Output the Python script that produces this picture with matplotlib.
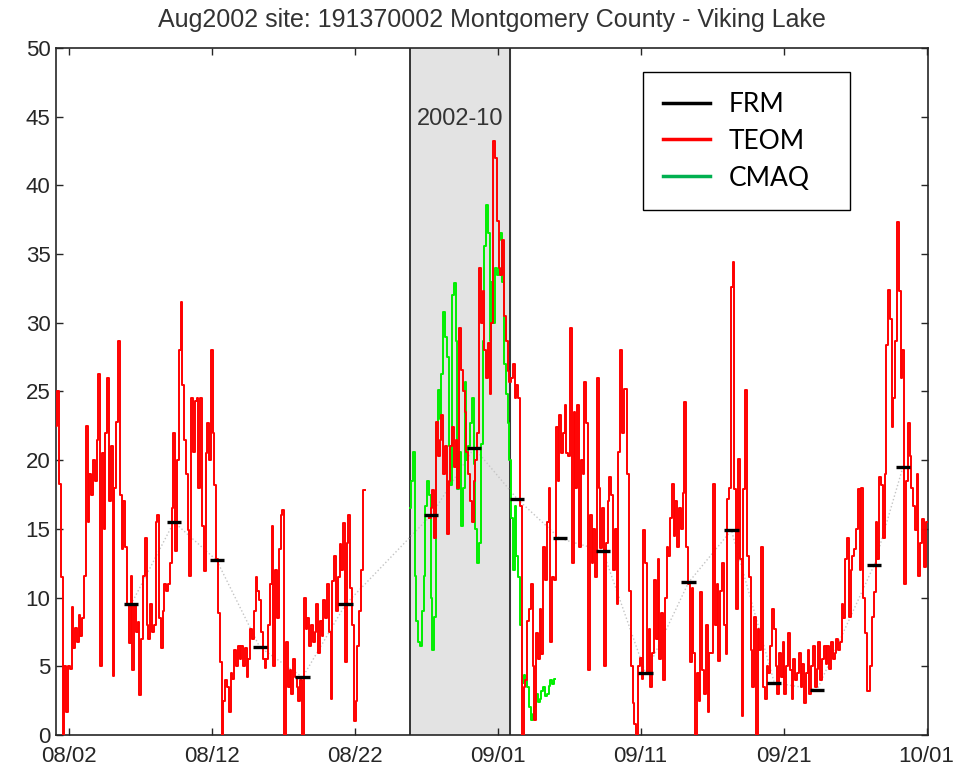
import numpy as np
import matplotlib.pyplot as plt
from matplotlib.lines import Line2D

plt.rcParams['font.family'] = ['Liberation Sans', 'DejaVu Sans']

# x axis is in days since 2002-08-01 (local time)
TZ_SHIFT = 0.15          # filter days / episode are drawn shifted to local time
EPISODE = (25, 32)       # 2002-10 modelling episode, days since Aug 1

# --------------------------------------------------
# data
# --------------------------------------------------
frm_day = [5, 8, 11, 14, 17, 20, 26, 29, 32, 35, 38, 41, 44, 47, 50, 53, 57, 59]
frm_val = [9.5, 15.5, 12.7, 6.4, 4.2, 9.5, 16.0, 20.9, 17.2, 14.3, 13.4,
           4.5, 11.1, 14.9, 3.8, 3.3, 12.4, 19.5]

nan = np.nan
# TEOM, 3-hourly, one row per day starting Aug 1
teom_by_day = [
    [12.5, 22.5, 25.0, 18.3, 11.5, 0.0, 5.0, 1.7],
    [5.0, 4.8, 9.3, 6.3, 7.8, 6.8, 8.7, 7.2],
    [8.5, 11.6, 22.5, 15.5, 19.0, 17.5, 20.0, 18.5],
    [21.5, 26.3, 5.0, 20.5, 15.0, 22.0, 26.0, 17.0],
    [21.0, 4.3, 18.0, 22.8, 28.7, 17.5, 13.5, 17.0],
    [13.7, 9.5, 6.7, 11.6, 4.7, 9.5, 7.5, 8.2],
    [2.9, 7.0, 11.6, 14.3, 8.0, 7.0, 9.5, 7.5],
    [8.0, 15.5, 16.0, 8.5, 6.3, 9.0, 11.0, 10.5],
    [11.0, 12.5, 16.5, 22.0, 13.4, 20.0, 28.0, 31.5],
    [25.5, 21.5, 19.0, 14.9, 11.6, 24.5, 20.6, 24.3],
    [24.5, 18.0, 24.5, 15.2, 11.9, 20.5, 22.7, 20.0],
    [28.0, 22.0, 18.2, 12.8, 8.9, 5.3, 0.0, 2.5],
    [4.0, 3.5, 1.7, 4.5, 4.1, 6.2, 5.0, 6.5],
    [5.5, 6.5, 5.0, 6.3, 4.2, 5.5, 7.7, 7.0],
    [9.0, 11.5, 10.5, 9.8, 7.5, 5.5, 4.9, 5.5],
    [8.0, 11.0, 15.2, 5.0, 12.0, 8.5, 13.5, 16.0],
    [16.4, 0.0, 6.8, 3.5, 4.7, 3.0, 5.5, 4.2],
    [3.5, 2.5, 4.0, 0.0, 10.0, 7.7, 8.5, 6.5],
    [8.0, 6.8, 7.5, 9.5, 6.0, 8.3, 7.2, 9.8],
    [8.5, 11.0, 7.5, 2.6, 11.2, 13.0, 9.0, 11.5],
    [13.9, 12.0, 15.4, 5.3, 14.0, 16.0, 10.7, 8.0],
    [1.0, 2.5, 6.5, 9.0, 12.0, 17.8, nan, nan],
    [nan] * 8,
    [nan] * 8,
    [nan] * 8,
    [nan] * 8,
    [nan, nan, 15.8, 16.5, 17.8, 14.3, 22.8, 20.3],
    [21.5, 23.3, 19.0, 21.0, 14.6, 18.5, 21.0, 22.4],
    [19.5, 21.5, 18.0, 29.6, 26.6, 25.0, 23.5, 20.6],
    [19.0, 17.0, 15.5, 18.5, 20.0, 22.0, 34.0, 30.0],
    [32.3, 28.0, 26.0, 28.5, 24.8, 30.0, 43.2, 42.0],
    [37.4, 34.0, 33.5, 36.0, 30.5, 28.7, 26.5, 25.7],
    [26.0, 27.0, 24.5, 25.5, 24.5, 16.7, 0.0, 3.5],
    [4.0, 8.3, 9.2, 11.0, 5.0, 1.1, 7.4, 5.5],
    [9.2, 5.9, 13.7, 11.3, 15.5, 18.0, 6.8, 11.5],
    [11.3, 22.4, 18.5, 23.3, 20.5, 22.0, 24.0, 20.5],
    [20.3, 29.6, 12.5, 23.5, 18.0, 24.0, 13.7, 20.0],
    [19.0, 25.7, 22.7, 4.7, 16.0, 12.5, 15.0, 11.5],
    [26.0, 18.0, 13.6, 16.5, 5.0, 14.0, 17.0, 18.8],
    [17.5, 12.0, 15.0, 9.5, 20.6, 28.0, 22.0, 25.2],
    [25.2, 19.0, 10.5, 5.0, 2.3, 0.8, 0.0, 5.0],
    [5.6, 4.1, 14.9, 12.5, 4.5, 7.7, 3.5, 6.0],
    [11.3, 7.0, 12.8, 5.5, 8.9, 4.0, 10.0, 13.7],
    [13.0, 15.8, 18.3, 14.5, 17.0, 13.7, 16.5, 15.0],
    [17.6, 24.2, 13.7, 11.0, 5.3, 10.7, 6.0, 0.0],
    [4.5, 2.5, 10.4, 4.7, 3.0, 8.0, 1.7, 6.0],
    [6.0, 18.3, 8.0, 11.0, 5.4, 10.5, 12.5, 8.0],
    [5.9, 17.2, 18.0, 32.6, 34.4, 17.9, 9.2, 20.1],
    [12.8, 1.4, 17.9, 25.1, 13.0, 11.5, 6.2, 3.5],
    [8.6, 0.0, 7.7, 6.2, 13.7, 3.5, 2.6, 5.0],
    [4.5, 6.5, 9.2, 7.7, 5.0, 3.0, 6.0, 4.2],
    [6.8, 3.0, 5.0, 7.4, 4.7, 2.6, 5.5, 4.0],
    [4.5, 6.0, 3.5, 5.2, 2.3, 4.5, 6.2, 3.0],
    [5.0, 6.5, 3.5, 4.8, 6.8, 4.0, 5.5, 6.5],
    [5.2, 6.5, 4.8, 6.8, 5.5, 6.0, 7.0, 6.2],
    [6.8, 9.5, 8.5, 12.8, 14.3, 8.6, 12.0, 13.0],
    [13.5, 15.0, 17.9, 12.0, 18.0, 10.0, 7.4, 3.2],
    [3.2, 5.0, 8.6, 10.4, 15.5, 12.8, 18.8, 18.2],
    [14.3, 19.0, 28.4, 32.4, 30.3, 22.4, 24.5, 28.7],
    [37.3, 32.3, 26.0, 28.0, 11.0, 18.5, 22.7, 20.3],
    [18.0, 16.7, 14.9, 19.0, 11.6, 14.0, 15.7, 12.2],
    [15.5, nan, nan, nan, nan, nan, nan, nan],
]

# CMAQ, 3-hourly from day 24.875 to day 35
cmaq_start = 24.875
cmaq_val = [16.5, 18.5, 20.6, 11.6, 8.3, 6.8, 6.5, 9.0,
            11.6, 16.7, 18.5, 17.5, 10.0, 6.2, 8.6, 22.7,
            25.1, 23.0, 26.3, 30.8, 29.0, 27.5, 21.0, 18.2,
            32.0, 32.9, 28.7, 17.9, 20.6, 15.2, 18.0, 25.7,
            20.0, 21.0, 22.7, 24.5, 19.7, 15.0, 12.5, 14.0,
            21.2, 28.7, 35.6, 38.6, 36.5, 28.7, 33.0, 30.0,
            34.0, 33.5, 36.0, 36.5, 33.0, 27.0, 24.8, 22.7,
            20.0, 15.8, 12.0, 16.7, 13.0, 11.5, 8.0, 3.8,
            4.4, 4.0, 3.5, 2.0, 1.1, 1.5, 2.0, 3.0,
            2.4, 2.6, 3.2, 3.5, 2.8, 3.0, 3.6, 4.0,
            3.7, 4.1]

tick_days = [1, 11, 21, 31, 41, 51, 61]
tick_labels = ["08/02", "08/12", "08/22", "09/01", "09/11", "09/21", "10/01"]

# --------------------------------------------------
# plot
# --------------------------------------------------
teom = np.array(teom_by_day, dtype=float).ravel()
t_teom = np.arange(teom.size) / 8.0
t_cmaq = cmaq_start + np.arange(len(cmaq_val)) / 8.0

fig = plt.figure(figsize=(9.54, 7.73), dpi=100)
ax = fig.add_axes([0.0587, 0.0492, 0.914, 0.8887])

ep0, ep1 = EPISODE[0] - TZ_SHIFT, EPISODE[1] - TZ_SHIFT
ax.axvspan(ep0, ep1, color='#e3e3e3', zorder=0)
ax.axvline(ep0, color='#262626', lw=1.3, zorder=1)
ax.axvline(ep1, color='#262626', lw=1.3, zorder=1)
ax.text((ep0 + ep1) / 2, 44.8, "2002-10", ha='center', va='center',
        fontsize=17, color='#333333')

frm_day = np.array(frm_day)
ax.plot(frm_day + 0.5 - TZ_SHIFT, frm_val, ':', color='#c4c4c4', lw=1.0, zorder=2)
ax.plot(t_cmaq, cmaq_val, color='#00ee00', lw=1.4, drawstyle='steps-mid', zorder=3)
ax.plot(t_teom, teom, color='#ff0000', lw=1.4, drawstyle='steps-mid', zorder=4)
for d, v in zip(frm_day, frm_val):
    ax.plot([d - TZ_SHIFT, d + 1 - TZ_SHIFT], [v, v], color='black', lw=2.4,
            solid_capstyle='butt', zorder=5)

ax.set_xlim(0.1, 61.1)
ax.set_ylim(0, 50)
ax.set_yticks(np.arange(0, 51, 5))
ax.set_xticks(tick_days)
ax.set_xticklabels(tick_labels)
ax.tick_params(direction='in', length=5, width=1, top=True, right=True,
               labelsize=16, colors='#262626')
ax.tick_params(axis='x', pad=8)
ax.tick_params(axis='y', pad=4)
for s in ax.spines.values():
    s.set_color('#262626')
    s.set_linewidth(1.2)

ax.set_title("Aug2002 site: 191370002 Montgomery County - Viking Lake",
             fontsize=18, color='#333333', pad=15)

handles = [Line2D([], [], color='black', lw=2.5),
           Line2D([], [], color='#ff0000', lw=2.5),
           Line2D([], [], color='#00b050', lw=2.5)]
leg = ax.legend(handles, ["FRM", "TEOM", "CMAQ"], loc='upper left',
                bbox_to_anchor=(0.673, 0.761, 0.238, 0.204), mode='expand',
                borderaxespad=0, prop={'family': 'Lato', 'size': 19},
                fancybox=False, edgecolor='black', framealpha=1,
                borderpad=0.75, labelspacing=0.45, handlelength=1.8,
                handletextpad=0.7)
leg.get_frame().set_linewidth(1.0)

fig.savefig("out.png", dpi=100)
